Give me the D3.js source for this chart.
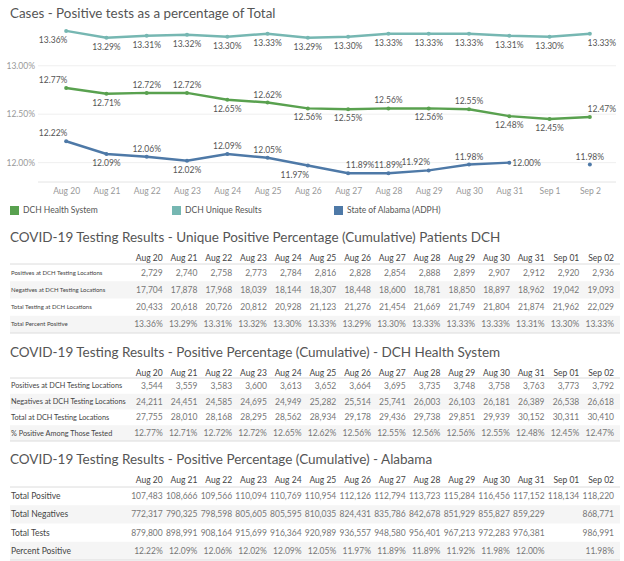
<!DOCTYPE html>
<html>
<head>
<meta charset="utf-8">
<script src="https://cdn.jsdelivr.net/npm/d3@7"></script>
<style>
body{margin:0;background:#fff}
svg{display:block;font-family:Lato, "Open Sans", sans-serif}
</style>
</head>
<body>
<svg></svg>
<script>
var chartDates = ["Aug 20","Aug 21","Aug 22","Aug 23","Aug 24","Aug 25","Aug 26","Aug 27","Aug 28","Aug 29","Aug 30","Aug 31","Sep 1","Sep 2"]
var tableDates = ["Aug 20","Aug 21","Aug 22","Aug 23","Aug 24","Aug 25","Aug 26","Aug 27","Aug 28","Aug 29","Aug 30","Aug 31","Sep 01","Sep 02"]
var seriesNames = ["DCH Health System","DCH Unique Results","State of Alabama (ADPH)"]
var yTicks = [12.0, 12.5, 13.0]

// DCH unique patients
var uniquePos = [2729,2740,2758,2773,2784,2816,2828,2854,2888,2899,2907,2912,2920,2936]
var uniqueNeg = [17704,17878,17968,18039,18144,18307,18448,18600,18781,18850,18897,18962,19042,19093]
var uniqueTotal = [20433,20618,20726,20812,20928,21123,21276,21454,21669,21749,21804,21874,21962,22029]
var uniquePct = [13.36,13.29,13.31,13.32,13.30,13.33,13.29,13.30,13.33,13.33,13.33,13.31,13.30,13.33]

// DCH health system
var dchPos = [3544,3559,3583,3600,3613,3652,3664,3695,3735,3748,3758,3763,3773,3792]
var dchNeg = [24211,24451,24585,24695,24949,25282,25514,25741,26003,26103,26181,26389,26538,26618]
var dchTotal = [27755,28010,28168,28295,28562,28934,29178,29436,29738,29851,29939,30152,30311,30410]
var dchPct = [12.77,12.71,12.72,12.72,12.65,12.62,12.56,12.55,12.56,12.56,12.55,12.48,12.45,12.47]

// State of Alabama (Sep 01 partly missing)
var alPos = [107483,108666,109566,110094,110769,110954,112126,112794,113723,115284,116456,117152,118134,118220]
var alNeg = [772317,790325,798598,805605,805595,810035,824431,835786,842678,851929,855827,859229,null,868771]
var alTotal = [879800,898991,908164,915699,916364,920989,936557,948580,956401,967213,972283,976381,null,986991]
var alPct = [12.22,12.09,12.06,12.02,12.09,12.05,11.97,11.89,11.89,11.92,11.98,12.00,null,11.98]

function main(){
    var width = 624
    var height = 561
    var svg = d3.select('svg').attr("width", width).attr("height", height)
    var color = d3.scaleOrdinal().domain(seriesNames).range(["#59a14f","#76b7b2","#4e79a7"])
    var fmtPct = function(v){ return v == null ? "" : d3.format(".2f")(v) + "%" }
    var fmtNum = function(v){ return v == null ? "" : d3.format(",")(v) }

    // ---- line chart ----
    svg.append("text").attr("x", 10).attr("y", 18)
        .style("font-size", "13.4px").style("fill", "#555")
        .text("Cases - Positive tests as a percentage of Total")

    var x = d3.scalePoint().domain(chartDates).range([46, 610]).padding(0.5)
    var y = d3.scaleLinear().domain([11.8, 13.4]).range([182, 27])

    svg.append("g").selectAll("line").data(yTicks).join("line")
        .attr("x1", 38).attr("x2", 616)
        .attr("y1", d => y(d)).attr("y2", d => y(d))
        .style("stroke", "#efefef")
    svg.append("line").attr("x1", 38).attr("x2", 616)
        .attr("y1", y(11.8)).attr("y2", y(11.8)).style("stroke", "#e4e4e4")

    svg.append("g").attr("transform", "translate(37,0)")
        .call(d3.axisLeft(y).tickValues(yTicks).tickSize(0).tickPadding(2).tickFormat(fmtPct))
    svg.append("g").attr("transform", "translate(0," + y(11.8) + ")")
        .call(d3.axisBottom(x).tickSize(0).tickPadding(6))
    svg.selectAll(".domain").remove()
    svg.selectAll(".tick text").style("font-size", "8.5px").style("fill", "#999").style("font-family", "Lato")

    // label placement per point: u/d above/below, l/r shift, r alone = right of point
    var place = {
        "DCH Unique Results": ["dl","d","d","d","d","d","d","d","d","d","d","d","d","dr"],
        "DCH Health System": ["ul","d","u","u","d","u","d","d","u","d","u","d","d","ur"],
        "State of Alabama (ADPH)": ["ul","d","u","d","u","u","dl","ur","u","ul","u","r","","u"]
    }
    var series = [
        {name: "DCH Unique Results", values: uniquePct},
        {name: "DCH Health System", values: dchPct},
        {name: "State of Alabama (ADPH)", values: alPct}
    ]
    var line = d3.line().defined(d => d.v != null).x(d => x(d.date)).y(d => y(d.v))

    series.forEach(function(s){
        var pts = s.values.map((v, i) => ({date: chartDates[i], v: v, p: place[s.name][i]}))
        var g = svg.append("g")
        g.append("path").datum(pts).attr("d", line)
            .style("fill", "none").style("stroke", color(s.name)).style("stroke-width", 2.5)
        g.selectAll("circle").data(pts.filter(d => d.v != null)).join("circle")
            .attr("cx", d => x(d.date)).attr("cy", d => y(d.v))
            .attr("r", 2)
            .style("fill", color(s.name))
        g.selectAll("text").data(pts.filter(d => d.v != null)).join("text")
            .attr("x", function(d){
                var dx = d.p.indexOf("l") >= 0 ? -13 : (d.p.indexOf("r") >= 0 ? 12 : 0)
                if (d.p == "r") dx = 3
                return x(d.date) + dx
            })
            .attr("y", function(d){
                var dy = d.p[0] == "u" ? -8 : (d.p[0] == "d" ? 9 : 0)
                return y(d.v) + dy
            })
            .attr("dy", "0.35em")
            .attr("text-anchor", d => d.p == "r" ? "start" : "middle")
            .style("font-size", "8.5px").style("fill", "#555")
            .text(d => fmtPct(d.v))
    })

    // legend
    var legendX = d3.scaleOrdinal().domain(seriesNames).range([10, 172, 334])
    var lg = svg.append("g").selectAll("g").data(seriesNames).join("g")
        .attr("transform", d => "translate(" + legendX(d) + ",206)")
    lg.append("rect").attr("width", 9).attr("height", 9).style("fill", d => color(d))
    lg.append("text").attr("x", 13).attr("y", 4.5).attr("dy", "0.35em")
        .style("font-size", "8.5px").style("fill", "#555").text(d => d)

    // ---- tables ----
    var col = d3.scaleBand().domain(tableDates).range([131, 617])

    function drawTable(cfg){
        var g = svg.append("g")
        g.append("text").attr("x", 10).attr("y", cfg.titleY)
            .style("font-size", "13.5px").style("fill", "#555").text(cfg.title)
        g.selectAll(".hdr").data(tableDates).join("text").attr("class", "hdr")
            .attr("x", d => col(d) + col.bandwidth() - 3).attr("y", cfg.headerY).attr("dy", "0.35em")
            .attr("text-anchor", "end").style("font-size", "8.5px").style("fill", "#444").text(d => d)
        var row = d3.scaleBand().domain(cfg.rows.map(r => r.label)).range([cfg.top, cfg.bottom])
        g.selectAll(".band").data(cfg.rows.filter((r, i) => i % 2 == 1)).join("rect")
            .attr("x", 10).attr("width", 610)
            .attr("y", d => row(d.label)).attr("height", row.bandwidth())
            .style("fill", "#f5f5f5")
        g.selectAll(".rule").data([cfg.top, cfg.bottom]).join("line")
            .attr("x1", 10).attr("x2", 620).attr("y1", d => d).attr("y2", d => d)
            .style("stroke", "#dcdcdc")
        var rg = g.selectAll(".row").data(cfg.rows).join("g")
            .attr("transform", d => "translate(0," + (row(d.label) + row.bandwidth() / 2) + ")")
        rg.append("text").attr("x", 11).attr("dy", "0.35em")
            .style("font-size", cfg.labelSize).style("fill", "#444").text(d => d.label)
        rg.selectAll(".val").data(d => d.values.map((v, i) => ({date: tableDates[i], s: d.fmt(v)}))).join("text")
            .attr("x", d => col(d.date) + col.bandwidth() - 3).attr("dy", "0.35em")
            .attr("text-anchor", "end").style("font-size", "8.5px").style("fill", "#777")
            .text(d => d.s)
    }

    drawTable({
        title: "COVID-19 Testing Results - Unique Positive Percentage (Cumulative) Patients DCH",
        titleY: 242, headerY: 258, top: 264, bottom: 333, labelSize: "6px",
        rows: [
            {label: "Positives at DCH Testing Locations", values: uniquePos, fmt: fmtNum},
            {label: "Negatives at DCH Testing Locations", values: uniqueNeg, fmt: fmtNum},
            {label: "Total Testing at DCH Locations", values: uniqueTotal, fmt: fmtNum},
            {label: "Total Percent Positive", values: uniquePct, fmt: fmtPct}
        ]
    })
    drawTable({
        title: "COVID-19 Testing Results - Positive Percentage (Cumulative) - DCH Health System",
        titleY: 357, headerY: 373, top: 378, bottom: 441, labelSize: "7.3px",
        rows: [
            {label: "Positives at DCH Testing Locations", values: dchPos, fmt: fmtNum},
            {label: "Negatives at DCH Testing Locations", values: dchNeg, fmt: fmtNum},
            {label: "Total at DCH Testing Locations", values: dchTotal, fmt: fmtNum},
            {label: "% Positive Among Those Tested", values: dchPct, fmt: fmtPct}
        ]
    })
    drawTable({
        title: "COVID-19 Testing Results - Positive Percentage (Cumulative) - Alabama",
        titleY: 464, headerY: 480, top: 487, bottom: 560, labelSize: "8.5px",
        rows: [
            {label: "Total Positive", values: alPos, fmt: fmtNum},
            {label: "Total Negatives", values: alNeg, fmt: fmtNum},
            {label: "Total Tests", values: alTotal, fmt: fmtNum},
            {label: "Percent Positive", values: alPct, fmt: fmtPct}
        ]
    })
}
main()
</script>
</body>
</html>
